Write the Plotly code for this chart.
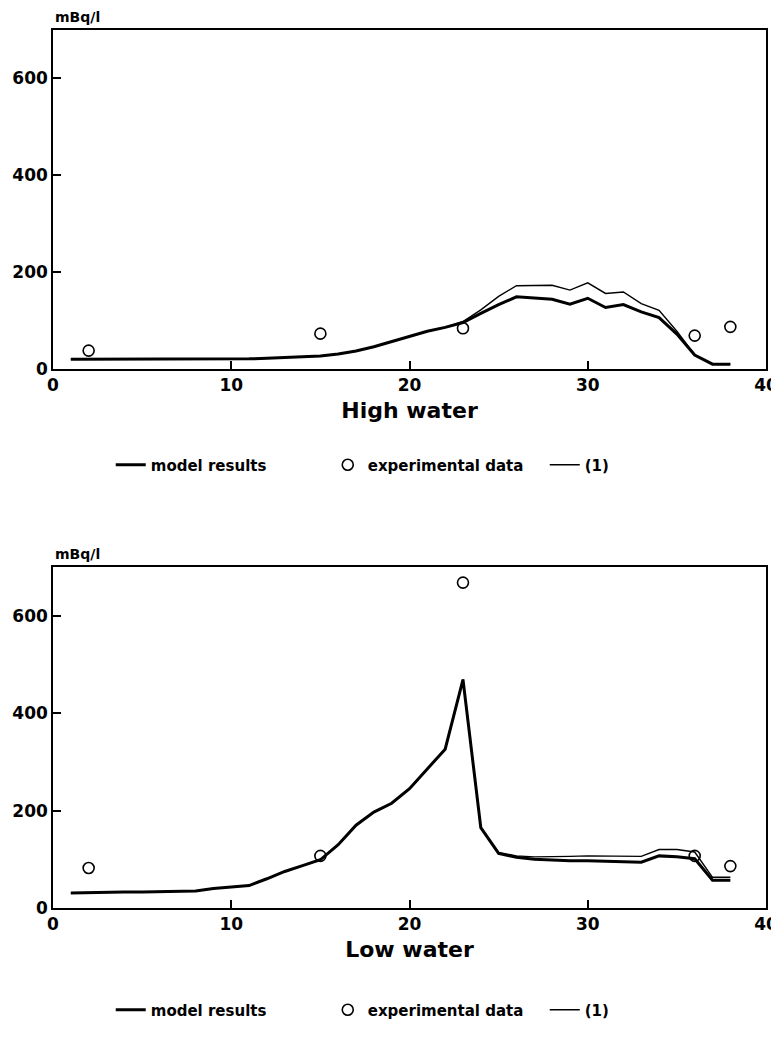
import plotly.graph_objects as go
from plotly.subplots import make_subplots

# ---- data ----
x_model = list(range(1, 39))
high_model = [20, 20, 20, 20, 20, 20, 20, 20, 20, 20, 21, 22, 24, 25, 27, 31, 37, 46, 57, 68,
              78, 86, 96, 115, 133, 149, 146, 144, 134, 146, 127, 133, 118, 106, 72, 29, 10, 10]
high_ref1 = [20, 20, 20, 20, 20, 20, 20, 20, 20, 20, 21, 22, 24, 25, 27, 31, 37, 46, 57, 68,
             78, 86, 98, 122, 150, 172, 172, 173, 163, 178, 156, 159, 135, 121, 78, 29, 10, 10]
low_model = [31, 32, 32, 33, 33, 34, 34, 35, 40, 43, 46, 60, 75, 87, 99, 130, 170, 197, 215, 245,
             285, 326, 469, 165, 112, 104, 100, 98, 97, 97, 96, 95, 94, 107, 105, 101, 57, 57]
low_ref1 = [31, 32, 32, 33, 33, 34, 34, 35, 40, 43, 46, 60, 75, 87, 99, 130, 170, 197, 215, 245,
            285, 326, 469, 165, 114, 107, 105, 105, 106, 107, 107, 106, 106, 120, 120, 115, 63, 63]
x_exp = [2, 15, 23, 36, 38]
high_exp = [38, 73, 84, 69, 87]
low_exp = [82, 107, 668, 107, 86]

x_ticks = [0, 10, 20, 30, 40]
y_ticks = [0, 200, 400, 600]
unit = "mBq/l"
titles = ["High water", "Low water"]

FONT = "DejaVu Sans"

fig = make_subplots(rows=2, cols=1)

panels = [(high_model, high_exp, high_ref1, "legend"), (low_model, low_exp, low_ref1, "legend2")]
for i, (mod, exp, ref, leg) in enumerate(panels, start=1):
    fig.add_trace(go.Scatter(x=x_model, y=mod, mode="lines", name="model results",
                             line=dict(color="black", width=3), legend=leg), row=i, col=1)
    fig.add_trace(go.Scatter(x=x_exp, y=exp, mode="markers", name="experimental data",
                             marker=dict(symbol="circle-open", size=11, color="black",
                                         line=dict(width=1.6, color="black")),
                             legend=leg), row=i, col=1)
    fig.add_trace(go.Scatter(x=x_model, y=ref, mode="lines", name="(1)",
                             line=dict(color="black", width=1.4), legend=leg), row=i, col=1)

# screen pixel geometry (page has an 8px body offset)
H_TOTAL = 878.0
top_dom = [(908 - 369) / H_TOTAL, 1.0]
bot_dom = [0.0, (908 - 567) / H_TOTAL]

axis_common = dict(showline=True, linecolor="black", linewidth=1.5, mirror=True,
                   ticks="inside", ticklen=8, tickwidth=1.5, tickcolor="black",
                   showgrid=False, zeroline=False, automargin=False,
                   ticklabeloverflow="allow",
                   tickfont=dict(family=FONT, size=17, color="black", weight="bold"))

for i, dom in [(1, top_dom), (2, bot_dom)]:
    fig.update_xaxes(range=[0, 40], tickvals=x_ticks, row=i, col=1,
                     title=dict(text=titles[i - 1], standoff=8,
                                font=dict(family=FONT, size=22, color="black", weight="bold")),
                     **axis_common)
    fig.update_yaxes(range=[0, 700], tickvals=y_ticks, domain=dom, row=i, col=1, **axis_common)

for dom in (top_dom, bot_dom):
    fig.add_annotation(text=unit, xref="paper", yref="paper", x=0, y=dom[1],
                       xanchor="left", yanchor="middle", yshift=13, showarrow=False,
                       font=dict(family=FONT, size=14, color="black", weight="bold"))

legend_common = dict(orientation="h", xanchor="left", yanchor="middle", x=0.081,
                     font=dict(family=FONT, size=15, color="black", weight="bold"),
                     bgcolor="rgba(0,0,0,0)", itemwidth=30, traceorder="normal",
                     entrywidth=172, entrywidthmode="pixels")
fig.update_layout(
    width=779, height=1022,
    margin=dict(l=45, r=21, t=22, b=122, autoexpand=False),
    plot_bgcolor="white", paper_bgcolor="white",
    showlegend=True,
    legend=dict(y=(908 - 465) / H_TOTAL, **legend_common),
    legend2=dict(y=(908 - 1010) / H_TOTAL, **legend_common),
)

fig.write_html("out.html")
